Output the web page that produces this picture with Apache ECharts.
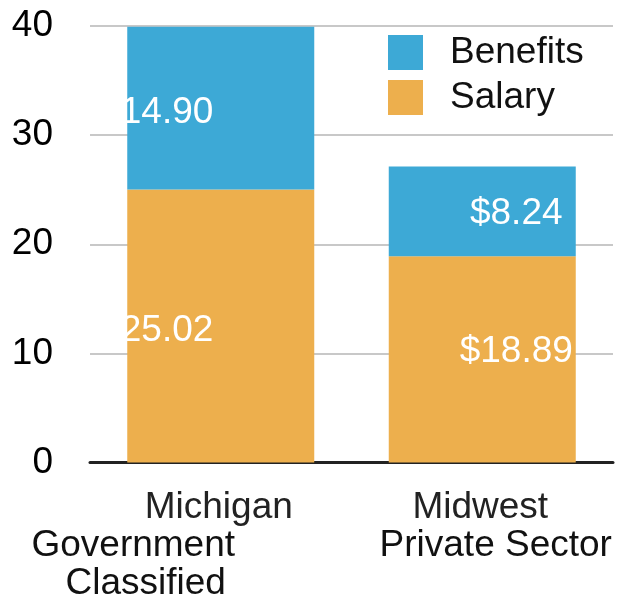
<!DOCTYPE html>
<html>
<head>
<meta charset="utf-8">
<script src="https://cdn.jsdelivr.net/npm/echarts@6/dist/echarts.min.js"></script>
<style>
  html, body { margin: 0; padding: 0; background: #fff; }
  #chart { width: 617px; height: 602px; }
</style>
</head>
<body>
<div id="chart"></div>
<script>
const categoryLines = [
    ['Michigan', 'Government', 'Classified'],
    ['Midwest', 'Private Sector']
];
const categories = categoryLines.map(l => l.join(' '));
const salary = [25.02, 18.89];
const benefits = [14.90, 8.24];
const yTicks = [0, 10, 20, 30, 40];

const FONT = '"Liberation Sans", Arial, sans-serif';
const colors = {
    benefits: '#3DA9D6',
    salary: '#EDAF4D'
};

// label placement of the source image is off-centre
const labelOffsets = {
    salary: [[-64, 5], [34, -8]],
    benefits: [[-64, 5], [34, 2]]
};

const barLabel = {
    show: true,
    position: 'inside',
    color: '#fff',
    fontFamily: FONT,
    fontSize: 37,
    formatter: p => '$' + p.value.toFixed(2)
};

const makeData = (values, offsets) => values.map((v, i) => ({
    value: v,
    label: { offset: offsets[i] }
}));

const lineStyle = (extra) => Object.assign({
    fontFamily: FONT,
    fontSize: 37,
    lineHeight: 38,
    color: '#111'
}, extra);

const chart = echarts.init(document.getElementById('chart'), null, { renderer: 'canvas' });

chart.setOption({
    animation: false,
    color: [colors.salary, colors.benefits],
    grid: {
        left: 90,
        right: 4,
        top: 26,
        bottom: 139
    },
    legend: {
        orient: 'vertical',
        left: 388,
        top: 34,
        padding: 0,
        itemWidth: 35,
        itemHeight: 35,
        itemGap: 8,
        icon: 'rect',
        textStyle: {
            fontFamily: FONT,
            fontSize: 37,
            color: '#111',
            padding: [0, 0, 0, 22]
        },
        data: ['Benefits', 'Salary']
    },
    xAxis: {
        type: 'category',
        data: categories,
        axisLine: {
            show: true,
            lineStyle: { color: '#222', width: 3 }
        },
        axisTick: { show: false },
        axisLabel: {
            interval: 0,
            margin: 26,
            formatter: (value, index) => {
                const lines = categoryLines[index];
                if (index === 0) {
                    return '{a|' + lines[0] + '}\n{b|' + lines[1] + '}\n{c|' + lines[2] + '}';
                }
                return '{a|' + lines[0] + '}\n{d|' + lines[1] + '}';
            },
            rich: {
                a: lineStyle({ color: '#222', padding: [0, 4, 0, 0] }),
                b: lineStyle({ padding: [0, 175, 0, 0] }),
                c: lineStyle({ padding: [0, 150, 0, 0] }),
                d: lineStyle({ padding: [0, 0, 0, 27] })
            }
        }
    },
    yAxis: {
        type: 'value',
        min: yTicks[0],
        max: yTicks[yTicks.length - 1],
        interval: 10,
        axisLine: { show: false },
        axisTick: { show: false },
        axisLabel: {
            margin: 37,
            fontFamily: FONT,
            fontSize: 37,
            color: '#000',
            padding: [8, 0, 0, 0]
        },
        splitLine: {
            show: true,
            lineStyle: { color: '#c8c8c8', width: 2 }
        }
    },
    series: [
        {
            name: 'Salary',
            type: 'bar',
            stack: 'total',
            barWidth: 187,
            itemStyle: { color: colors.salary },
            label: barLabel,
            data: makeData(salary, labelOffsets.salary)
        },
        {
            name: 'Benefits',
            type: 'bar',
            stack: 'total',
            barWidth: 187,
            itemStyle: { color: colors.benefits },
            label: barLabel,
            data: makeData(benefits, labelOffsets.benefits)
        }
    ]
});

window.addEventListener('resize', () => {
    chart.resize();
});
</script>
</body>
</html>
